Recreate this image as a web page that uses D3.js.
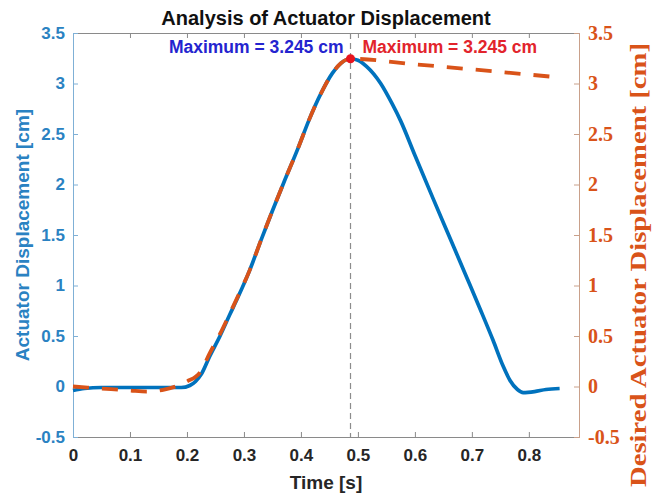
<!DOCTYPE html>
<html>
<head>
<meta charset="utf-8">
<script src="https://cdn.jsdelivr.net/npm/d3@7"></script>
<style>
  body { margin: 0; background: #fff; }
  svg { display: block; }
</style>
</head>
<body>
<svg width="652" height="497"></svg>
<script>

const actualTime = [0, 0.02, 0.05, 0.1, 0.15, 0.19, 0.205, 0.215, 0.225, 0.24, 0.258, 0.275, 0.29, 0.31, 0.33,
  0.35, 0.37, 0.395, 0.415, 0.435, 0.455, 0.47, 0.487, 0.5, 0.515, 0.54, 0.56, 0.575, 0.6, 0.632, 0.66,
  0.691, 0.715, 0.737, 0.755, 0.767, 0.78, 0.79, 0.81, 0.83, 0.854];
const actualDisp = [-0.04, -0.02, -0.01, -0.01, -0.01, -0.01, 0.01, 0.05, 0.12, 0.3, 0.5, 0.71, 0.89, 1.15, 1.45,
  1.74, 2.02, 2.36, 2.65, 2.9, 3.1, 3.2, 3.245, 3.23, 3.17, 3.0, 2.8, 2.63, 2.29, 1.86, 1.49,
  1.08, 0.76, 0.46, 0.2, 0.06, -0.03, -0.06, -0.05, -0.03, -0.02];

const desiredTime = [0, 0.05, 0.1, 0.13, 0.16, 0.18, 0.2, 0.223, 0.24, 0.258, 0.275, 0.29, 0.31, 0.33,
  0.35, 0.37, 0.395, 0.415, 0.435, 0.455, 0.47, 0.487, 0.6, 0.7, 0.854];
const desiredDisp = [0, -0.02, -0.04, -0.05, -0.03, 0.0, 0.05, 0.14, 0.33, 0.52, 0.72, 0.9, 1.15, 1.45,
  1.74, 2.02, 2.36, 2.65, 2.9, 3.1, 3.2, 3.245, 3.19, 3.14, 3.06];

const peakTime = 0.487;
const peakValue = 3.245;

const xTicks = [0, 0.1, 0.2, 0.3, 0.4, 0.5, 0.6, 0.7, 0.8];
const yTicks = [-0.5, 0, 0.5, 1, 1.5, 2, 2.5, 3, 3.5];

const BLUE = "#0072BD";
const ORANGE = "#D95319";
const TICK = 5;

const svg = d3.select("svg");
const margin = {left: 73, right: 73, top: 33, bottom: 60};
const width = 652, height = 497;
const x0 = margin.left, x1 = width - margin.right;
const y0 = height - margin.bottom, y1 = margin.top;

const x = d3.scaleLinear().domain([0, 0.888]).range([x0, x1]);
const yL = d3.scaleLinear().domain([-0.5, 3.5]).range([y0, y1]);
const yR = d3.scaleLinear().domain([-0.5, 3.5]).range([y0, y1]);

// Axes (MATLAB style: ticks pointing inward)
const xAxisBottom = svg.append("g")
    .attr("transform", "translate(0," + y0 + ")")
    .call(d3.axisBottom(x).tickValues(xTicks).tickSize(-TICK).tickPadding(12).tickFormat(d => String(d)));
const xAxisTop = svg.append("g")
    .attr("transform", "translate(0," + y1 + ")")
    .call(d3.axisTop(x).tickValues(xTicks).tickSize(-TICK).tickFormat(""));
[xAxisBottom, xAxisTop].forEach(g => {
  g.select(".domain").attr("stroke", "#8a8a8a");
  g.selectAll(".tick line").attr("stroke", "#8a8a8a");
});
xAxisBottom.selectAll("text")
    .attr("fill", "#262626")
    .attr("font-family", "Liberation Sans, Arial, sans-serif")
    .attr("font-weight", "bold")
    .attr("font-size", 17);

const yAxisLeft = svg.append("g")
    .attr("transform", "translate(" + x0 + ",0)")
    .call(d3.axisLeft(yL).tickValues(yTicks).tickSize(-TICK).tickPadding(8).tickFormat(d => String(d)));
yAxisLeft.select(".domain").attr("stroke", "#7fb0d6");
yAxisLeft.selectAll(".tick line").attr("stroke", "#7fb0d6");
yAxisLeft.selectAll("text")
    .attr("fill", "#2a82c2")
    .attr("font-family", "Liberation Sans, Arial, sans-serif")
    .attr("font-weight", "bold")
    .attr("font-size", 17);

const yAxisRight = svg.append("g")
    .attr("transform", "translate(" + x1 + ",0)")
    .call(d3.axisRight(yR).tickValues(yTicks).tickSize(-TICK).tickPadding(9).tickFormat(d => String(d)));
yAxisRight.select(".domain").attr("stroke", "#c9a08a");
yAxisRight.selectAll(".tick line").attr("stroke", "#c9a08a");
yAxisRight.selectAll("text")
    .attr("fill", ORANGE)
    .attr("font-family", "Liberation Serif, Times New Roman, serif")
    .attr("font-weight", "bold")
    .attr("font-size", 20);

// Vertical marker at the peak
svg.append("line")
    .attr("x1", x(peakTime)).attr("x2", x(peakTime))
    .attr("y1", y1).attr("y2", y0)
    .attr("stroke", "#8c8c8c")
    .attr("stroke-width", 1.2)
    .attr("stroke-dasharray", "6,4");

// Curves
const lineActual = d3.line()
    .x((d, i) => x(actualTime[i]))
    .y(d => yL(d))
    .curve(d3.curveMonotoneX);
const lineDesired = d3.line()
    .x((d, i) => x(desiredTime[i]))
    .y(d => yR(d))
    .curve(d3.curveMonotoneX);

svg.append("path")
    .attr("d", lineActual(actualDisp))
    .attr("fill", "none")
    .attr("stroke", BLUE)
    .attr("stroke-width", 3.7);

svg.append("path")
    .attr("d", lineDesired(desiredDisp))
    .attr("fill", "none")
    .attr("stroke", ORANGE)
    .attr("stroke-width", 3.8)
    .attr("stroke-dasharray", "16,13");

svg.append("circle")
    .attr("cx", x(peakTime))
    .attr("cy", yL(peakValue))
    .attr("r", 4.5)
    .attr("fill", "#e8141e");

// Annotations
svg.append("text")
    .attr("x", x(peakTime) - 7)
    .attr("y", 53)
    .attr("text-anchor", "end")
    .attr("fill", "#2424cf")
    .attr("font-family", "Liberation Sans, Arial, sans-serif")
    .attr("font-weight", "bold")
    .attr("font-size", 17.5)
    .text("Maximum = " + peakValue.toFixed(3) + " cm");
svg.append("text")
    .attr("x", x(peakTime) + 12)
    .attr("y", 53)
    .attr("text-anchor", "start")
    .attr("fill", "#e2242c")
    .attr("font-family", "Liberation Sans, Arial, sans-serif")
    .attr("font-weight", "bold")
    .attr("font-size", 17.5)
    .text("Maximum = " + peakValue.toFixed(3) + " cm");

// Titles
svg.append("text")
    .attr("x", (x0 + x1) / 2)
    .attr("y", 25)
    .attr("text-anchor", "middle")
    .attr("fill", "#111")
    .attr("font-family", "Liberation Sans, Arial, sans-serif")
    .attr("font-weight", "bold")
    .attr("font-size", 20)
    .text("Analysis of Actuator Displacement");

svg.append("text")
    .attr("x", (x0 + x1) / 2)
    .attr("y", 489)
    .attr("text-anchor", "middle")
    .attr("fill", "#262626")
    .attr("font-family", "Liberation Sans, Arial, sans-serif")
    .attr("font-weight", "bold")
    .attr("font-size", 19)
    .text("Time [s]");

svg.append("text")
    .attr("transform", "translate(29," + ((y0 + y1) / 2) + ") rotate(-90)")
    .attr("text-anchor", "middle")
    .attr("fill", "#2a82c2")
    .attr("font-family", "Liberation Sans, Arial, sans-serif")
    .attr("font-weight", "bold")
    .attr("font-size", 19)
    .text("Actuator Displacement [cm]");

svg.append("text")
    .attr("transform", "translate(646,265) rotate(-90)")
    .attr("text-anchor", "middle")
    .attr("fill", ORANGE)
    .attr("font-family", "Liberation Serif, Times New Roman, serif")
    .attr("font-weight", "bold")
    .attr("font-size", 24)
    .attr("textLength", 444)
    .attr("lengthAdjust", "spacingAndGlyphs")
    .text("Desired Actuator Displacement [cm]");
</script>
</body>
</html>
